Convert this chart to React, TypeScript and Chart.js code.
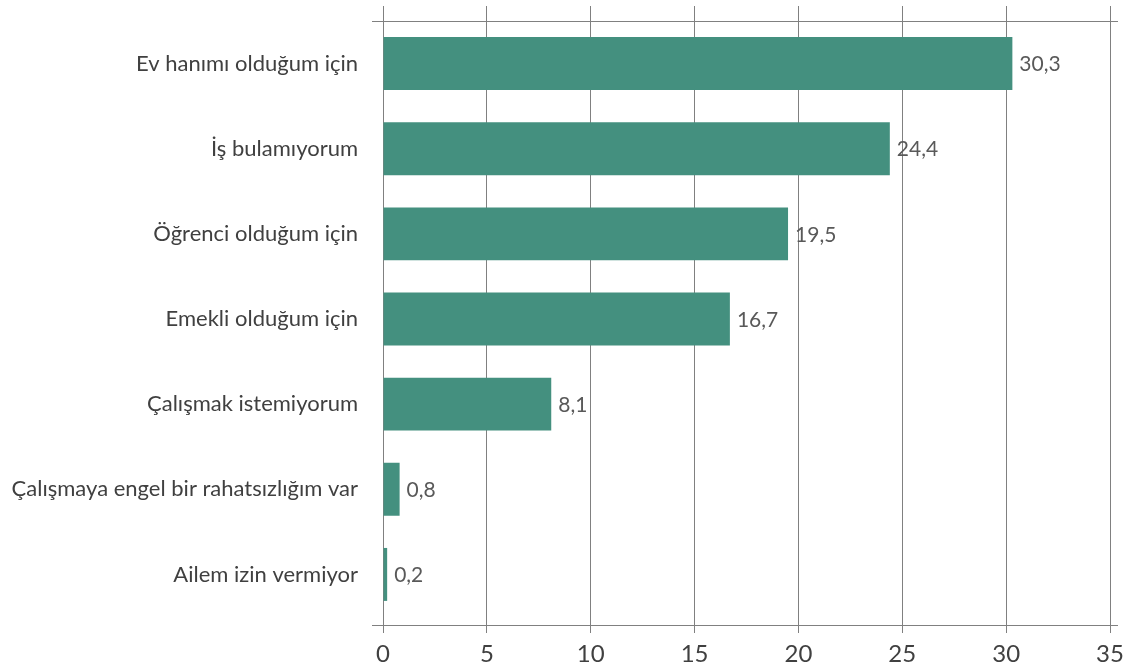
import React, { useEffect, useRef } from "react";
import { Chart, registerables } from "chart.js";

Chart.register(...registerables);

const categories = [
  "Ev hanımı olduğum için",
  "İş bulamıyorum",
  "Öğrenci olduğum için",
  "Emekli olduğum için",
  "Çalışmak istemiyorum",
  "Çalışmaya engel bir rahatsızlığım var",
  "Ailem izin vermiyor",
];
const values = [30.3, 24.4, 19.5, 16.7, 8.1, 0.8, 0.2];
const xMin = 0;
const xMax = 35;
const xStep = 5;

const FONT = "Lato, 'Open Sans', sans-serif";
const GRID = "#808080";
const BAR = "#44907F";

const extrasPlugin = {
  id: "extras",
  afterDatasetsDraw(chart: any) {
    const { ctx, chartArea } = chart;
    ctx.save();
    ctx.strokeStyle = GRID;
    ctx.lineWidth = 1;
    ctx.beginPath();
    ctx.moveTo(chartArea.left - 11, chartArea.top + 0.5);
    ctx.lineTo(chartArea.right + 8, chartArea.top + 0.5);
    ctx.moveTo(chartArea.left - 11, chartArea.bottom + 8.5);
    ctx.lineTo(chartArea.right + 8, chartArea.bottom + 8.5);
    ctx.stroke();
    const meta = chart.getDatasetMeta(0);
    ctx.fillStyle = "#595959";
    ctx.font = `21px ${FONT}`;
    ctx.textAlign = "left";
    ctx.textBaseline = "middle";
    meta.data.forEach((bar: any, i: number) => {
      const v = values[i];
      ctx.fillText(v.toFixed(1).replace(".", ","), bar.x + 7, bar.y + 1);
    });
    ctx.restore();
  },
};

export default function App() {
  const ref = useRef<HTMLCanvasElement>(null);
  useEffect(() => {
    document.body.style.margin = "0";
    const chart = new Chart(ref.current!, {
      type: "bar",
      data: {
        labels: categories,
        datasets: [
          {
            data: values,
            backgroundColor: BAR,
            categoryPercentage: 1,
            barPercentage: 0.622,
          },
        ],
      },
      options: {
        indexAxis: "y",
        animation: false,
        responsive: false,
        layout: { padding: { right: 18, top: 0, bottom: 0, left: 0 } },
        plugins: { legend: { display: false }, tooltip: { enabled: false } },
        scales: {
          x: {
            position: "bottom",
            min: xMin,
            max: xMax,
            ticks: {
              stepSize: xStep,
              color: "#404040",
              font: { family: FONT, size: 24 },
              padding: 7,
            },
            grid: { color: GRID, lineWidth: 1, tickLength: 16, drawOnChartArea: true },
            border: { display: false },
            afterFit: (s: any) => {
              s.height = 54;
              s.paddingLeft = 0;
              s.paddingRight = 0;
            },
          },
          x2: {
            position: "top",
            min: xMin,
            max: xMax,
            ticks: { stepSize: xStep, display: false },
            grid: { color: GRID, lineWidth: 1, tickLength: 15, drawOnChartArea: false },
            border: { display: false },
            afterFit: (s: any) => {
              s.height = 21;
              s.paddingLeft = 0;
              s.paddingRight = 0;
            },
          },
          y: {
            ticks: {
              color: "#404040",
              font: { family: FONT, size: 22 },
              padding: 25,
            },
            grid: { display: false, drawTicks: false },
            border: { display: false },
            afterFit: (s: any) => {
              s.width = 383;
              s.paddingTop = 0;
              s.paddingBottom = 0;
            },
          },
        },
      },
      plugins: [extrasPlugin],
    });
    return () => chart.destroy();
  }, []);
  return (
    <div style={{ width: 1128, height: 671 }}>
      <canvas ref={ref} width={1128} height={671} style={{ display: "block" }} />
    </div>
  );
}
